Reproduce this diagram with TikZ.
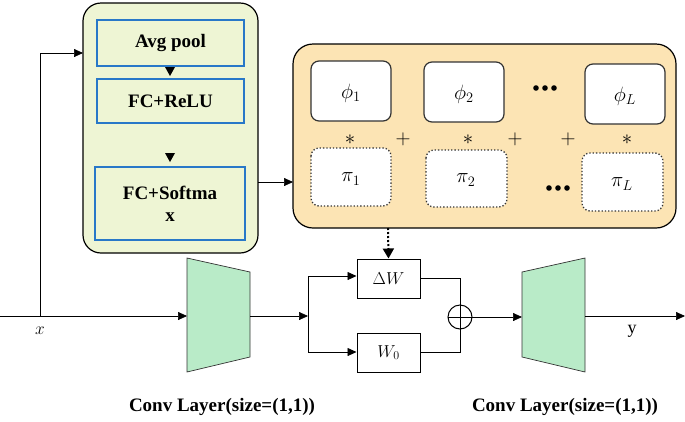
\documentclass[tikz,border=0pt]{standalone}
\usepackage{fontspec}
\setmainfont{Liberation Serif}
\usetikzlibrary{arrows.meta}
\begin{document}
\begin{tikzpicture}[x=1pt,y=-1pt,
  arr/.style={-{Triangle[length=9pt,width=8pt]},line width=0.7pt},
  ln/.style={line width=0.7pt},
  blue box/.style={draw={rgb,255:red,40;green,120;blue,200},line width=1.2pt,font=\bfseries\fontsize{19}{22}\selectfont,align=center},
  phibox/.style={draw=black!80,line width=1.2pt,rounded corners=8pt,fill=white},
  pibox/.style={draw=black!80,line width=1.3pt,dotted,rounded corners=8pt,fill=white},
  trap/.style={fill={rgb,255:red,185;green,235;blue,200},draw=black!80,line width=0.7pt},
  mth/.style={font=\fontsize{22}{24}\selectfont},
  lab/.style={font=\bfseries\fontsize{19}{22}\selectfont}]
\useasboundingbox (0,0) rectangle (685,421);
% left module
\draw[fill={rgb,255:red,238;green,245;blue,212},line width=1.2pt,rounded corners=18pt] (83,3) rectangle (258,253);
\node[blue box,minimum width=147pt,minimum height=46pt] (avg) at (170.5,43) {Avg pool};
\node[blue box,minimum width=147pt,minimum height=44pt] (fcr) at (170.5,101) {FC+ReLU};
\node[blue box,minimum width=150pt,minimum height=73pt] (fcs) at (170,203.5) {FC+Softma\\x};
\fill (165,67) -- (175,67) -- (170,76) -- cycle;
\fill (165,153) -- (175,153) -- (170,162) -- cycle;
% orange module
\draw[fill={rgb,255:red,252;green,228;blue,180},line width=1.2pt,rounded corners=20pt] (293,44) rectangle (676,228);
\coordinate (orb) at (388,228);
\draw[phibox] (311,61) rectangle (391,121); \node[mth] (p1) at (351,93) {$\phi_1$};
\draw[phibox] (424,62) rectangle (504,122); \node[mth] (p2) at (464,94) {$\phi_2$};
\draw[phibox] (585,64) rectangle (665,124); \node[mth] (pL) at (625,96) {$\phi_L$};
\draw[pibox] (311,148) rectangle (391,206); \node[mth] (q1) at (351,179) {$\pi_1$};
\draw[pibox] (426,150) rectangle (507,207); \node[mth] (q2) at (466,180) {$\pi_2$};
\draw[pibox] (582,153) rectangle (663,211); \node[mth] (qL) at (622,184) {$\pi_L$};
\foreach \x/\y in {545/88,558/188}{\foreach \d in {-9,0,9}\fill (\x+\d,\y) circle (2.8pt);}
\foreach \x in {350,468,627}\node[mth] at (\x,140) {$*$};
\foreach \x in {403,515,568}\node[mth] at (\x,139) {$+$};
% connectors top
\coordinate (in) at (0,316);
\coordinate (br0) at (40,316);
\draw[arr] (br0) -- (40,53) -- (83,53);
\draw[arr] (258,182) -- (293,182);
% bottom
\draw[trap] (187,258) -- (250,272) -- (250,357) -- (187,372) -- cycle;
\draw[trap] (522,272) -- (585,258) -- (585,372) -- (522,357) -- cycle;
\node[draw,line width=1pt,minimum width=63pt,minimum height=39pt,fill=white,font=\fontsize{18}{20}\selectfont] (dw) at (388.5,278.5) {$\Delta W$};
\node[draw,line width=1pt,minimum width=63pt,minimum height=39pt,fill=white,font=\fontsize{18}{20}\selectfont] (w0) at (388.5,352.5) {$W_0$};
\draw[-{Triangle[length=10pt,width=11pt]},dotted,line width=2pt] (orb) -- (dw.north);
\node[draw,circle,line width=1pt,minimum size=24pt,inner sep=0pt] (plus) at (460,317) {};
\draw[ln] (plus.north) -- (plus.south) (plus.west) -- (plus.east);
\draw[arr] (in) -- (187,316);
\draw[arr] (250,316) -- (308,316);
\draw[arr] (308,316) -- (308,276) -- (dw.west|-308,276);
\draw[arr] (308,316) -- (308,352) -- (w0.west|-308,352);
\draw[ln] (dw.east) -- (460,278.5) -- (plus.north);
\draw[ln] (w0.east) -- (460,352.5) -- (plus.south);
\draw[arr] (plus.east) -- (522,317);
\draw[arr] (585,316) -- (685,316);
\node[font=\fontsize{18}{20}\selectfont] at (40,331) {$x$};
\node[font=\fontsize{18}{20}\selectfont] at (632,331) {y};
\node[lab] at (222,407) {Conv Layer(size=(1,1))};
\node[lab] at (565,407) {Conv Layer(size=(1,1))};
\end{tikzpicture}
\end{document}
